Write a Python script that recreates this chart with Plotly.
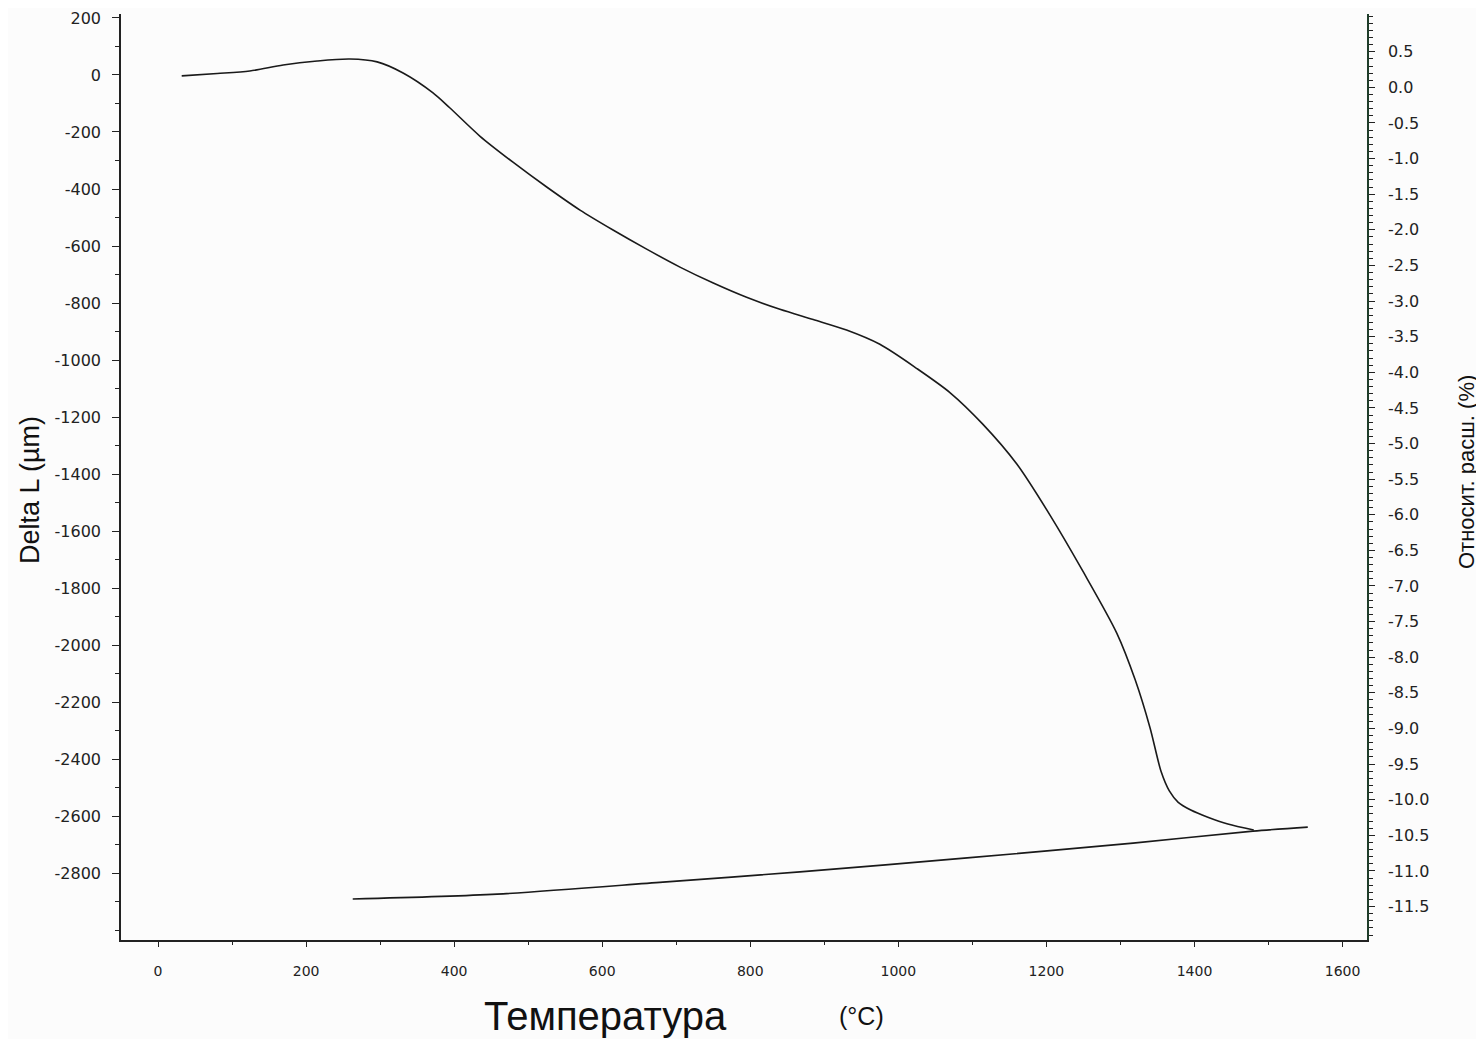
import plotly.graph_objects as go

# Heating curve (temperature °C, Delta L µm)
heat_T = [32, 80, 124, 169, 215, 259, 296, 331, 371, 394, 435, 479, 525, 570, 614,
          660, 705, 750, 795, 840, 885, 930, 975, 1025, 1070, 1114, 1160, 1205, 1249,
          1295, 1320, 1340, 1355, 1366, 1378, 1395, 1418, 1445, 1480]
heat_L = [-3, 5, 14, 35, 49, 56, 46, 7, -62, -115, -215, -305, -393, -474, -543,
          -611, -674, -730, -780, -822, -858, -895, -945, -1030, -1115, -1225, -1365, -1545, -1740,
          -1958, -2123, -2291, -2445, -2512, -2552, -2579, -2604, -2628, -2649]

# Cooling curve
cool_T = [1553, 1479, 1317, 1093, 867, 682, 458, 263]
cool_L = [-2639, -2653, -2695, -2747, -2796, -2832, -2874, -2891]

x_ticks = [0, 200, 400, 600, 800, 1000, 1200, 1400, 1600]
left_ticks = [200, 0, -200, -400, -600, -800, -1000, -1200, -1400, -1600, -1800,
              -2000, -2200, -2400, -2600, -2800]
right_ticks = [0.5, 0.0, -0.5, -1.0, -1.5, -2.0, -2.5, -3.0, -3.5, -4.0, -4.5, -5.0,
               -5.5, -6.0, -6.5, -7.0, -7.5, -8.0, -8.5, -9.0, -9.5, -10.0, -10.5,
               -11.0, -11.5]

# the page adds an 8px body margin, so the figure is laid out in page pixels minus 8
OFF = 8
W, H = 1484 - OFF, 1039 - OFF
l, r, t, b = 121 - OFF, 1484 - 1367, 14 - OFF, 1039 - 940
pw, ph = W - l - r, H - t - b

fig = go.Figure()
fig.add_trace(go.Scatter(x=heat_T, y=heat_L, mode="lines",
                         line=dict(color="#1a1a1a", width=1.6, shape="spline", smoothing=0.8),
                         showlegend=False, hoverinfo="skip"))
fig.add_trace(go.Scatter(x=cool_T, y=cool_L, mode="lines",
                         line=dict(color="#1a1a1a", width=1.6, shape="spline", smoothing=0.8),
                         showlegend=False, hoverinfo="skip"))
fig.add_trace(go.Scatter(x=[None], y=[None], yaxis="y2", mode="lines", showlegend=False, hoverinfo="skip"))

tickfont = dict(family="DejaVu Sans", size=16, color="#222")

fig.update_layout(
    width=W, height=H,
    margin=dict(l=l, r=r, t=t, b=b, autoexpand=False),
    paper_bgcolor="#fcfcfc", plot_bgcolor="#fcfcfc",
    font=dict(family="Arial, Liberation Sans", color="#111"),
    xaxis=dict(range=[-50, 1633], tickvals=x_ticks, ticktext=[str(v) for v in x_ticks],
               showgrid=False, zeroline=False, showline=True, linecolor="#222", linewidth=1.5,
               ticks="outside", ticklen=5, tickcolor="#222", tickwidth=1.2,
               minor=dict(dtick=100, tick0=0, ticks="outside", ticklen=3, tickcolor="#222", showgrid=False),
               tickfont=dict(family="DejaVu Sans", size=14, color="#222"), ticklabelstandoff=12),
    yaxis=dict(range=[-3035, 214], tickvals=left_ticks, ticktext=[str(v) for v in left_ticks],
               showgrid=False, zeroline=False, showline=True, linecolor="#222", linewidth=1.5,
               ticks="outside", ticklen=7, tickcolor="#222", tickwidth=1.2,
               minor=dict(dtick=100, tick0=0, ticks="outside", ticklen=4, tickcolor="#222", showgrid=False),
               tickfont=tickfont, ticklabelstandoff=8),
    yaxis2=dict(range=[-11.97, 1.03], overlaying="y", side="right", anchor="x",
                tickvals=right_ticks, ticktext=[f"{v:.1f}" for v in right_ticks],
                showgrid=False, zeroline=False, showline=True, linecolor="#1f3d2a", linewidth=1.5,
                ticks="outside", ticklen=6, tickcolor="#222", tickwidth=1.2,
                minor=dict(dtick=0.1, tick0=0, ticks="outside", ticklen=4, tickcolor="#222", showgrid=False),
                tickfont=tickfont, ticklabelstandoff=10),
)

# titles placed at page-pixel positions
titles = [
    ("Температура", 605, 1016, 40, 0),
    ("(°C)", 861, 1016, 25, 0),
    ("Delta L (µm)", 30, 490, 27, -90),
    ("Относит. расш. (%)", 1466, 472, 22, -90),
]
anns = []
for text, px, py, size, ang in titles:
    fx, fy = px - OFF, py - OFF
    anns.append(dict(text=text, showarrow=False, textangle=ang,
                     xref="paper", yref="paper",
                     x=(fx - l) / pw, y=1 - (fy - t) / ph,
                     xanchor="center", yanchor="middle",
                     font=dict(family="Arial, Liberation Sans", size=size, color="#111")))
fig.update_layout(annotations=anns)

fig.write_html("out.html")
